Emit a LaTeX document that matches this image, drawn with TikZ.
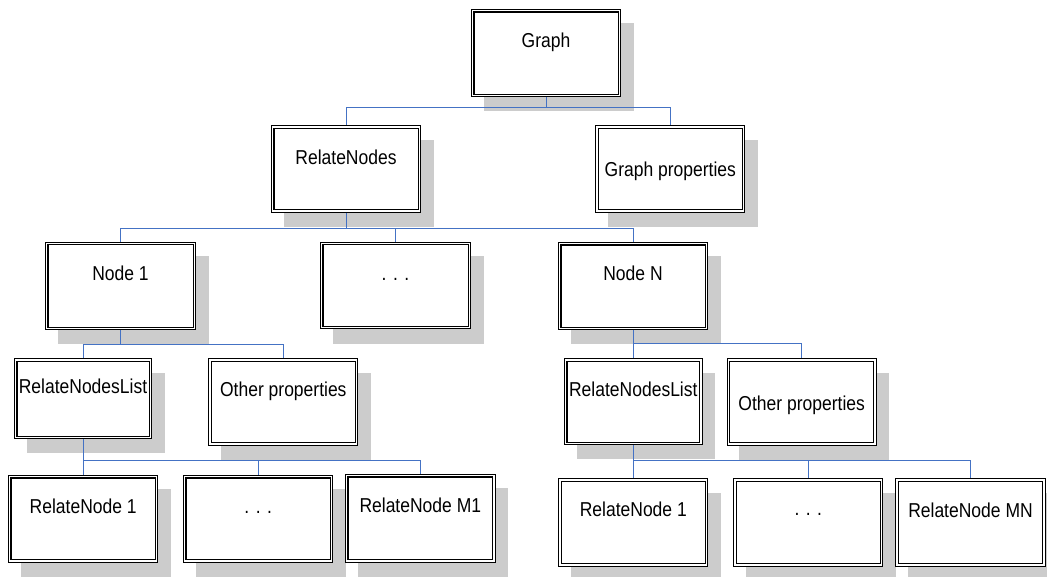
\documentclass[tikz,border=0pt]{standalone}
\usepackage{fontspec}
\setmainfont{Liberation Sans}
\usetikzlibrary{calc}
\definecolor{shc}{RGB}{204,204,204}
\definecolor{conc}{RGB}{68,114,196}
\pgfdeclarelayer{shadowlayer}
\pgfdeclarelayer{linelayer}
\pgfsetlayers{shadowlayer,linelayer,main}
\newcommand\mydrawbox[5]{%
  \node[bx, minimum width={#4-#2-3.5}, minimum height={#5-#3-3.5}] (#1) at ({(#2+#4)/2},{(#3+#5)/2}) {};
  \begin{pgfonlayer}{shadowlayer}
  \fill[shc] (#2+12.7,#3+14.3) rectangle (#4+12.7,#5+14.3);
  \end{pgfonlayer}}
\newcommand\mytxt[1]{\scalebox{1}[1.15]{#1}}
\begin{document}
\begin{tikzpicture}[x=1pt, y=-1pt,
  bx/.style={rectangle, draw=black, line width=1.1pt, double=white, double distance=1.3pt, fill=white, inner sep=0pt},
  txt/.style={anchor=base, inner sep=0pt, font=\fontsize{17.5}{20}\selectfont},
  conn/.style={draw=conc, line width=1pt}]
\useasboundingbox (0,0) rectangle (1047,576);
\begin{pgfonlayer}{shadowlayer}
\fill[white] (0,0) rectangle (1047,576);
\end{pgfonlayer}
% boxes
\mydrawbox{g}{471}{9}{621}{97}
\mydrawbox{rn}{271}{125.3}{421}{212.7}
\mydrawbox{gp}{595.3}{125.3}{745.3}{212.7}
\mydrawbox{n1}{45}{241.7}{196}{330}
\mydrawbox{dm}{320}{241.7}{471}{329.3}
\mydrawbox{nn}{558}{242}{708}{330}
\mydrawbox{rla}{14}{358.3}{152}{439}
\mydrawbox{opa}{208.3}{358.3}{358.3}{445.7}
\mydrawbox{rlb}{564}{358.3}{702.7}{445}
\mydrawbox{opb}{726.7}{358.3}{876.7}{445.7}
\mydrawbox{ra}{8}{475}{158.3}{562.7}
\mydrawbox{da}{183}{475}{333.3}{562.7}
\mydrawbox{ma}{345}{474}{495.7}{562.7}
\mydrawbox{rb}{558.3}{478.3}{708.3}{566.7}
\mydrawbox{db}{733.3}{478.3}{883.3}{566.7}
\mydrawbox{mb}{895.3}{478.3}{1045.7}{566.7}
% texts
\node[txt] (gt) at (546,47) {\mytxt{Graph}};
\node[txt] (rnt) at (346,164) {\mytxt{RelateNodes}};
\node[txt] (gpt) at (670.3,176.5) {\mytxt{Graph properties}};
\node[txt] (n1t) at (120.5,280) {\mytxt{Node 1}};
\node[txt] (dmt) at (395.5,280.5) {\mytxt{. . .}};
\node[txt] (nnt) at (633,280.5) {\mytxt{Node N}};
\node[txt] (rlat) at (83,393) {\mytxt{RelateNodesList}};
\node[txt] (opat) at (283.3,396.5) {\mytxt{Other properties}};
\node[txt] (rlbt) at (633.3,396.7) {\mytxt{RelateNodesList}};
\node[txt] (opbt) at (801.7,410) {\mytxt{Other properties}};
\node[txt] (rat) at (83.2,513) {\mytxt{RelateNode 1}};
\node[txt] (dat) at (258.2,513) {\mytxt{. . .}};
\node[txt] (mat) at (420.3,512.7) {\mytxt{RelateNode M1}};
\node[txt] (rbt) at (633.3,516.7) {\mytxt{RelateNode 1}};
\node[txt] (dbt) at (808.3,515) {\mytxt{. . .}};
\node[txt] (mbt) at (970.5,517) {\mytxt{RelateNode MN}};
% connectors
\begin{pgfonlayer}{linelayer}
\coordinate (j1) at (g.south |- 0,107);
\draw[conn] (g.south) -- (j1);
\draw[conn] (j1) -| (rn.north);
\draw[conn] (j1) -| (gp.north);
\coordinate (j2) at (rn.south |- 0,228);
\draw[conn] (rn.south) -- (j2);
\draw[conn] (j2) -| (n1.north);
\draw[conn] (j2) -| (dm.north);
\draw[conn] (j2) -| (nn.north);
\coordinate (j3) at (n1.south |- 0,344);
\draw[conn] (n1.south) -- (j3);
\draw[conn] (j3) -| (rla.north);
\draw[conn] (j3) -| (opa.north);
\coordinate (j4) at (nn.south |- 0,343.5);
\draw[conn] (nn.south) -- (j4);
\draw[conn] (j4) -| (rlb.north);
\draw[conn] (j4) -| (opb.north);
\coordinate (j5) at (rla.south |- 0,460.7);
\draw[conn] (rla.south) -- (j5);
\draw[conn] (j5) -| (ra.north);
\draw[conn] (j5) -| (da.north);
\draw[conn] (j5) -| (ma.north);
\coordinate (j6) at (rlb.south |- 0,460);
\draw[conn] (rlb.south) -- (j6);
\draw[conn] (j6) -| (rb.north);
\draw[conn] (j6) -| (db.north);
\draw[conn] (j6) -| (mb.north);
\end{pgfonlayer}
\end{tikzpicture}
\end{document}
